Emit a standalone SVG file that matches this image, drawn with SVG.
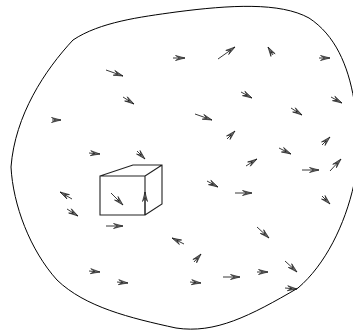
<svg xmlns="http://www.w3.org/2000/svg" width="353" height="334" viewBox="0 0 353 334">
<defs>
<marker id="h" markerUnits="userSpaceOnUse" markerWidth="12" markerHeight="8" refX="10" refY="4" orient="auto" overflow="visible">
<path d="M0.5,1.5 L10,4 L0.5,6.5 L4.5,4 Z" fill="#666" stroke="#111" stroke-width="0.6" stroke-linejoin="miter"/>
</marker>
</defs>
<style>
.o{fill:none;stroke:#000;stroke-width:1}
.c{fill:none;stroke:#222;stroke-width:1.1}
.a{fill:none;stroke:#222;stroke-width:0.9;marker-end:url(#h)}
</style>
<g id="boundary"><path class="o" d="M11,167 C13,205 30,250 57,280 C85,307 130,318 176,328 C215,334 250,316 298,288 C325,265 345,225 354,184 L354,100 C348,65 335,35 309,18 C280,2 230,5 176,12 C140,17 100,22 73,40 C45,70 15,115 11,167 Z"/></g>
<g id="cube">
<path class="c" d="M100,176 H145 V215 H100 Z M100,176 L133,165 H162 V204 L145,215 M145,176 L162,165"/>
</g>
<g id="connectors">
<path class="a" d="M106,70 L123,76"/>
<path class="a" d="M123,97 L134,104"/>
<path class="a" d="M52,120 L61,120"/>
<path class="a" d="M89,153 L100,154"/>
<path class="a" d="M137,151 L145,159"/>
<path class="a" d="M173,58 L185,58"/>
<path class="a" d="M218,59 L235,47"/>
<path class="a" d="M273,55 L268,47"/>
<path class="a" d="M319,58 L330,58"/>
<path class="a" d="M241,92 L252,98"/>
<path class="a" d="M331,97 L342,103"/>
<path class="a" d="M291,108 L302,115"/>
<path class="a" d="M195,114 L212,120"/>
<path class="a" d="M227,139 L235,131"/>
<path class="a" d="M322,145 L330,137"/>
<path class="a" d="M279,148 L291,154"/>
<path class="a" d="M246,166 L257,159"/>
<path class="a" d="M330,171 L341,159"/>
<path class="a" d="M111,193 L123,205"/>
<path class="a" d="M145,215 L145,192"/>
<path class="a" d="M72,199 L60,192"/>
<path class="a" d="M67,209 L78,216"/>
<path class="a" d="M106,226 L123,226"/>
<path class="a" d="M89,271 L100,272"/>
<path class="a" d="M117,282 L128,283"/>
<path class="a" d="M207,181 L218,187"/>
<path class="a" d="M235,193 L252,193"/>
<path class="a" d="M302,170 L319,170"/>
<path class="a" d="M322,196 L330,204"/>
<path class="a" d="M257,227 L269,238"/>
<path class="a" d="M184,244 L172,238"/>
<path class="a" d="M194,262 L201,254"/>
<path class="a" d="M190,282 L201,283"/>
<path class="a" d="M223,277 L240,277"/>
<path class="a" d="M257,272 L268,272"/>
<path class="a" d="M285,261 L297,272"/>
<path class="a" d="M285,288 L297,289"/>
</g>
</svg>
